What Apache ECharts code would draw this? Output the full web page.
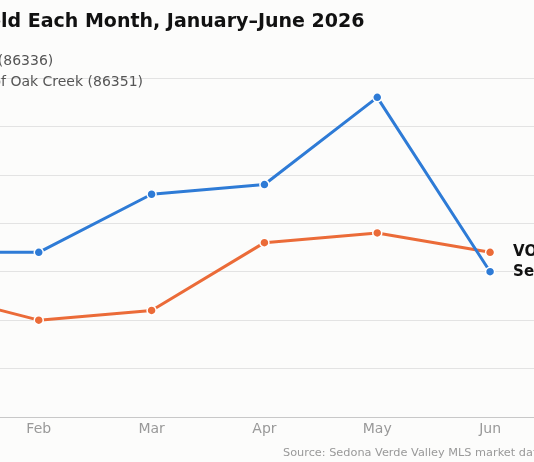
<!DOCTYPE html>
<html>
<head>
<meta charset="utf-8">
<script src="https://cdn.jsdelivr.net/npm/echarts@6/dist/echarts.min.js"></script>
<style>
html,body{margin:0;padding:0;width:534px;height:462px;overflow:hidden;background:#fcfcfb}
#chart{position:absolute;left:-160px;top:0;width:720px;height:462px}
</style>
</head>
<body>
<div id="chart"></div>
<script>
// homes sold per month
const months = ['Jan', 'Feb', 'Mar', 'Apr', 'May', 'Jun']
const sedonaSold = [34, 34, 46, 48, 66, 30]
const vocSold = [26, 20, 22, 36, 38, 34]
const yTicks = [0, 10, 20, 30, 40, 50, 60, 70]

const FONT = '"DejaVu Sans", sans-serif'
const SHIFT = 160 // the page only shows part of the chart

function textWidth(str, font) {
    let ctx = document.createElement('canvas').getContext('2d')
    ctx.font = font
    return ctx.measureText(str).width
}

let titleLeft = SHIFT + 1 - textWidth('Homes So', 'bold 19px ' + FONT)
let legendText = textWidth('Village o', '14px ' + FONT)
let legendLeft = SHIFT - legendText - 14 - 5

let chart = echarts.init(document.getElementById('chart'))
chart.setOption({
    backgroundColor: '#fcfcfb',
    textStyle: {fontFamily: FONT},
    title: [{
        text: 'Homes Sold Each Month, January–June 2026',
        left: titleLeft,
        top: 13,
        padding: 0,
        textStyle: {fontSize: 19, fontWeight: 'bold', color: '#111', fontFamily: FONT}
    }, {
        text: 'Source: Sedona Verde Valley MLS market data',
        left: SHIFT + 283,
        top: 448,
        padding: 0,
        textStyle: {fontSize: 11.3, fontWeight: 'normal', color: '#999', fontFamily: FONT}
    }],
    legend: {
        orient: 'vertical',
        left: legendLeft,
        top: 53,
        padding: 0,
        itemWidth: 14,
        itemHeight: 14,
        itemGap: 5,
        icon: 'circle',
        textStyle: {fontSize: 14, color: '#555', fontFamily: FONT},
        data: ['Sedona (86336)', 'Village of Oak Creek (86351)']
    },
    grid: {
        left: SHIFT - 130.5,
        right: 720 - (SHIFT + 546.5),
        top: 78,
        bottom: 45,
        containLabel: false,
        outerBoundsMode: 'none'
    },
    xAxis: {
        type: 'category',
        data: months,
        boundaryGap: true,
        axisLine: {lineStyle: {color: '#c8c8c8', width: 1}},
        axisTick: {show: false},
        axisLabel: {color: '#999', fontSize: 14, margin: 5, fontFamily: FONT}
    },
    yAxis: {
        type: 'value',
        min: yTicks[0],
        max: yTicks[yTicks.length - 1],
        interval: 10,
        axisLine: {show: false},
        axisTick: {show: false},
        axisLabel: {color: '#999', fontSize: 13},
        splitLine: {lineStyle: {color: '#e3e3e3', width: 1}}
    },
    series: [{
        name: 'Sedona (86336)',
        type: 'line',
        data: sedonaSold,
        color: '#2e7bd6',
        lineStyle: {width: 3},
        symbol: 'circle',
        symbolSize: 9,
        itemStyle: {color: '#2e7bd6', borderColor: '#fff', borderWidth: 1.5},
        endLabel: {
            show: true,
            formatter: 'Sedona',
            distance: 23,
            fontSize: 15,
            fontWeight: 'bold',
            color: '#111',
            fontFamily: FONT
        },
        z: 3
    }, {
        name: 'Village of Oak Creek (86351)',
        type: 'line',
        data: vocSold,
        color: '#eb6b38',
        lineStyle: {width: 3},
        symbol: 'circle',
        symbolSize: 9,
        itemStyle: {color: '#eb6b38', borderColor: '#fff', borderWidth: 1.5},
        endLabel: {
            show: true,
            formatter: 'VOC',
            distance: 23,
            fontSize: 15,
            fontWeight: 'bold',
            color: '#111',
            fontFamily: FONT
        },
        z: 2
    }]
})
</script>
</body>
</html>
